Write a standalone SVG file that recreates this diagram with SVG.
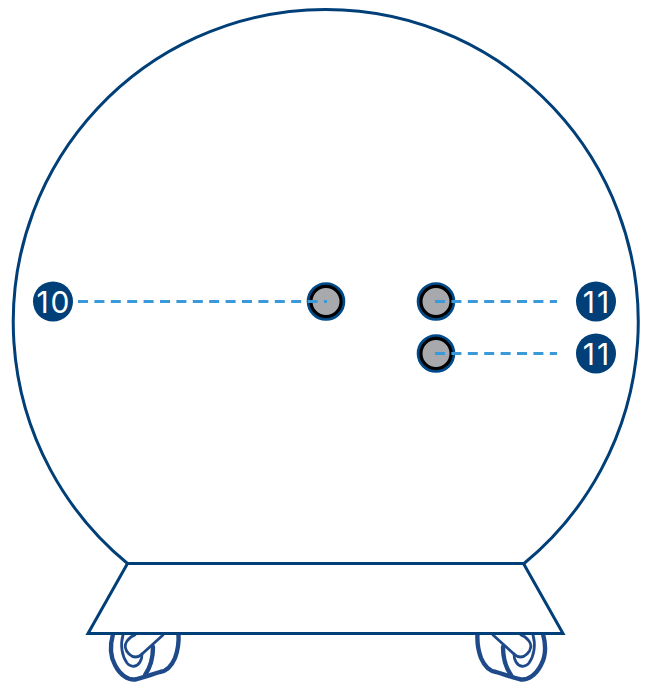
<svg xmlns="http://www.w3.org/2000/svg" width="649" height="685" viewBox="0 0 649 685">
<style>
.o{fill:#fff;stroke:#003f77;stroke-width:3}
.w{fill:none;stroke:#1f4a8a;stroke-width:4.4;stroke-linecap:round;stroke-linejoin:round}
.v{fill:none;stroke:#1f4a8a;stroke-width:2.8;stroke-linecap:round;stroke-linejoin:round}
.p{fill:#a7a9ac;stroke:#000;stroke-width:4}
.r{fill:none;stroke:#004a8a;stroke-width:2.6}
.d{fill:none;stroke:#3a9ad9;stroke-width:3;stroke-dasharray:10 6.4}
.b{fill:#003f77}
.t{fill:#fff;font-family:"Inter","Liberation Sans",sans-serif;font-size:30px;font-weight:400;text-anchor:middle;letter-spacing:2px}
</style>
<defs>
<g id="wheel">
<path class="w" d="M113 634C110 645 110 656 115 665C120 675 128 680 135 679.500C142 678 150 675 160 672C168 671 172 665 175 658C178 650 179 642 178.500 634"/>
<path class="w" d="M153 647C153 658 150 668 145 675"/>
<path class="v" d="M123 635C120 645 122 656 127 663C131 668 137 667 140 662C142 659 142 657 142 654"/>
<path class="v" d="M163 635L142 654C138 658 133 658 129 654C125 650 124 645 127 641C129 638 132 636 135 635"/>
</g>
</defs>
<g id="body"><path class="o" d="M127.500 563.500A312.500 312.500 0 1 1 524 563.500Z"/></g>
<g id="wheel-left"><use href="#wheel"/></g>
<g id="wheel-right"><use href="#wheel" transform="translate(656 0) scale(-1 1)"/></g>
<g id="base"><path class="o" d="M127.500 563.500H523.500L563 633.500H88Z"/></g>
<g id="port-a"><circle class="p" cx="326" cy="301.500" r="15.500"/><circle class="r" cx="326" cy="301.500" r="18"/></g>
<g id="port-b"><circle class="p" cx="436" cy="301.500" r="15.500"/><circle class="r" cx="436" cy="301.500" r="18"/></g>
<g id="port-c"><circle class="p" cx="436" cy="353.500" r="15.500"/><circle class="r" cx="436" cy="353.500" r="18"/></g>
<g id="connectors">
<path class="d" d="M78 301.500H327"/>
<path class="d" d="M435 301.500H557"/>
<path class="d" d="M435 353.500H557"/>
</g>
<g id="badge-10"><circle class="b" cx="53" cy="301.500" r="20"/><text class="t" x="54" y="312.500">10</text></g>
<g id="badge-11a"><circle class="b" cx="596" cy="301.500" r="20"/><text class="t" x="597" y="312.500">11</text></g>
<g id="badge-11b"><circle class="b" cx="596" cy="353.500" r="20"/><text class="t" x="597" y="364.500">11</text></g>
</svg>
